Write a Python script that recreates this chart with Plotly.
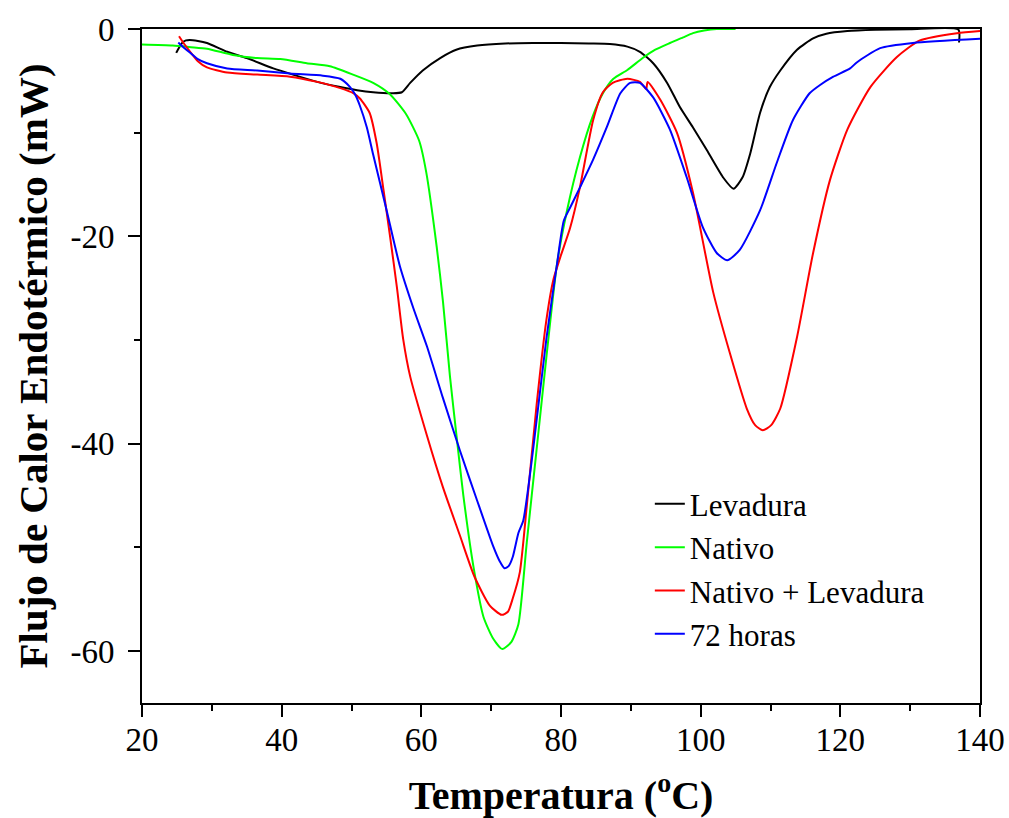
import plotly.graph_objects as go

# Levadura (black)
lev_x = [24.9, 25.3, 25.8, 26.3, 26.8, 28.0, 29.3, 32.2, 35.0, 38.8, 41.6, 45.1, 48.4, 50.8, 53.1,
         55.9, 57.2, 58.4, 60.2, 62.7, 65.0, 68.0, 72.0, 76.0, 80.0, 84.0, 87.0, 89.5, 91.3, 93.2,
         95.2, 97.0, 98.9, 100.9, 103.2, 104.7, 106.0, 107.1, 108.5, 109.9, 111.4, 113.8, 116.1, 118.0, 121.0,
         125.0, 130.0, 136.9, 137.0]
lev_y = [-2.3, -1.8, -1.3, -1.1, -1.05, -1.15, -1.35, -2.2, -2.8, -3.8, -4.4, -5.1, -5.6, -5.9, -6.1,
         -6.2, -6.1, -5.2, -4.0, -2.8, -2.0, -1.6, -1.4, -1.35, -1.35, -1.4, -1.45, -1.7, -2.2, -3.3,
         -5.2, -7.5, -9.5, -11.7, -14.3, -15.4, -14.3, -12.0, -8.1, -5.6, -4.0, -2.0, -0.9, -0.45, -0.2,
         -0.08, -0.02, -0.05, -1.3]

# Nativo (green)
nat_x = [20.0, 24.4, 27.0, 29.3, 33.0, 36.5, 39.8, 43.6, 46.9, 50.2, 53.1, 55.5, 57.8, 59.7, 60.7,
         62.2, 63.1, 64.1, 65.1, 66.0, 67.5, 68.9, 70.3, 71.6, 72.9, 73.9, 75.1, 76.5, 77.9, 79.4,
         80.8, 82.7, 84.5, 86.0, 87.5, 89.5, 91.7, 93.5, 95.6, 97.5, 98.9, 100.5, 102.3, 105.0]
nat_y = [-1.5, -1.6, -1.75, -1.9, -2.5, -2.8, -2.9, -3.3, -3.6, -4.4, -5.2, -6.3, -8.2, -10.8, -13.8,
         -21.0, -26.3, -33.5, -39.6, -44.9, -52.0, -56.7, -58.8, -59.8, -59.1, -57.4, -49.5, -40.6, -31.7, -22.8,
         -17.7, -12.4, -8.5, -6.2, -4.8, -3.95, -2.8, -2.0, -1.35, -0.8, -0.4, -0.15, 0.0, 0.0]

# Nativo + Levadura (red)
nl_x = [25.3, 26.0, 26.9, 28.0, 29.3, 32.2, 36.5, 41.2, 45.1, 48.4, 50.3, 51.2, 52.6, 53.6, 54.6,
        55.5, 56.5, 57.4, 58.4, 60.8, 63.1, 65.5, 67.6, 69.8, 71.5, 72.4, 73.1, 74.1, 75.1, 76.5,
        77.9, 78.9, 79.9, 81.3, 82.7, 84.6, 86.0, 87.4, 89.5, 91.3, 92.2, 92.4, 94.2,
        96.6, 98.9, 101.8, 104.2, 106.6, 107.8, 108.9, 110.1, 111.4, 113.8, 116.1, 118.5, 121.0, 124.3, 128.1,
        131.4, 136.7, 140.0]
nl_y = [-0.7, -1.4, -2.2, -3.1, -3.7, -4.2, -4.4, -4.6, -5.1, -5.7, -6.2, -6.7, -8.1, -11.0, -15.6,
        -19.9, -24.9, -29.9, -33.5, -39.2, -44.2, -48.8, -52.8, -55.6, -56.5, -56.2, -54.9, -52.4, -46.0, -36.3,
        -28.1, -24.2, -22.0, -19.2, -15.3, -8.8, -6.1, -5.2, -4.8, -5.1, -5.8, -5.1, -6.8,
        -10.0, -15.8, -25.4, -31.3, -36.6, -38.2, -38.7, -38.2, -36.6, -29.7, -21.6, -14.6, -9.7, -5.6, -2.7,
        -1.1, -0.4, -0.2]

# 72 horas (blue)
h72_x = [25.2, 26.0, 26.9, 28.0, 29.3, 32.2, 36.5, 41.2, 45.9, 48.4, 49.8, 50.5, 51.2, 52.2, 53.1, 55.0,
         56.9, 58.9, 60.8, 63.1, 65.5, 67.9, 70.3, 71.2, 71.9, 72.5, 73.1, 73.9, 74.6, 76.0, 77.9,
         79.4, 80.4, 81.4, 82.7, 84.6, 86.6, 88.5, 89.9, 91.3, 93.2, 95.6, 98.0, 100.3, 102.3, 103.8,
         105.6, 108.5, 110.9, 113.2, 115.6, 117.1, 119.0, 121.4, 122.4, 125.7, 130.4, 140.0]
h72_y = [-1.3, -1.8, -2.3, -2.9, -3.3, -3.8, -4.0, -4.3, -4.5, -4.8, -5.6, -6.3, -7.4, -9.5, -12.1, -17.4,
         -22.8, -27.0, -30.6, -35.6, -40.6, -45.3, -49.9, -51.3, -52.0, -51.8, -50.9, -48.6, -47.4, -40.6, -29.9,
         -22.8, -18.5, -17.1, -15.3, -12.6, -9.4, -6.2, -5.2, -5.2, -6.6, -9.7, -14.3, -19.1, -21.6, -22.3,
         -21.3, -17.5, -12.9, -8.8, -6.2, -5.4, -4.6, -3.8, -3.2, -1.85, -1.35, -0.95]

series = [
    ("Levadura", lev_x, lev_y, "#000000"),
    ("Nativo", nat_x, nat_y, "#00ff00"),
    ("Nativo + Levadura", nl_x, nl_y, "#ff0000"),
    ("72 horas", h72_x, h72_y, "#0000ff"),
]

x_ticks = [20, 40, 60, 80, 100, 120, 140]
y_ticks = [-60, -40, -20, 0]
y_ticktext = ["-60", "-40", "-20", "0"]

FONT = "Liberation Serif"

fig = go.Figure()
for name, xs, ys, col in series:
    fig.add_trace(go.Scatter(x=xs, y=ys, mode="lines", name=name,
                             line=dict(color=col, width=2, shape="spline", smoothing=0.6)))

axis_common = dict(showgrid=False, zeroline=False, showline=True, linecolor="black", linewidth=2,
                   mirror=True, ticks="outside", tickwidth=2, ticklen=12, tickcolor="black",
                   automargin=False,
                   tickfont=dict(family=FONT, size=33, color="black"))

fig.update_layout(
    template="none",
    width=1009, height=818,
    margin=dict(l=142, r=29, t=29, b=115),
    paper_bgcolor="white", plot_bgcolor="white",
    font=dict(family=FONT, color="black"),
    xaxis=dict(range=[20, 140], tickvals=x_ticks, ticklabelstandoff=-6,
               minor=dict(tickvals=[30, 50, 70, 90, 110, 130], ticklen=6, tickwidth=2, tickcolor="black", ticks="outside"),
               title=dict(text="<b>Temperatura (<sup>o</sup>C)</b>", font=dict(family=FONT, size=40), standoff=29),
               **axis_common),
    yaxis=dict(range=[-65, 0], tickvals=y_ticks, ticktext=y_ticktext, ticklabelstandoff=7,
               minor=dict(tickvals=[-50, -30, -10], ticklen=6, tickwidth=2, tickcolor="black", ticks="outside"),
               title=dict(text="<b>Flujo de Calor Endotérmico (mW)</b>", font=dict(family=FONT, size=41), standoff=10),
               **axis_common),
    legend=dict(x=0.606, y=0.335, xanchor="left", yanchor="top", bgcolor="rgba(0,0,0,0)",
                font=dict(family=FONT, size=31, color="black"), tracegroupgap=0),
    showlegend=True,
)

fig.write_html("out.html", config={"displayModeBar": False},
               post_script="document.body.style.margin='0px';document.body.style.overflow='hidden';")
